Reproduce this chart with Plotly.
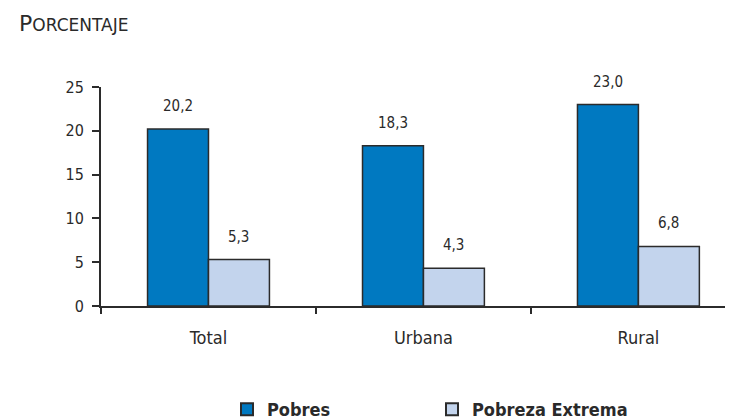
import plotly.graph_objects as go

categories = ["Total", "Urbana", "Rural"]
pobres = [20.2, 18.3, 23.0]
pobreza_extrema = [5.3, 4.3, 6.8]
series_names = ["Pobres", "Pobreza Extrema"]
y_ticks = [0, 5, 10, 15, 20, 25]

FONT = "DejaVu Sans Condensed"
TXT = "#2a2a2a"
EDGE = "#2b2b2b"
BARGAP = 0.433
BW = (1 - BARGAP) / 2

# page body has an 8px margin: the figure is laid out in figure pixels
W, H = 733, 420
ML, MT, MB, MR = 93, 79, 122, 8
PW, PH = W - ML - MR, H - MT - MB


def fmt(v):
    return f"{v:.1f}".replace(".", ",")


fig = go.Figure()
fig.add_trace(go.Bar(name=series_names[0], x=categories, y=pobres,
                     marker=dict(color="#0079C1", line=dict(color=EDGE, width=1.5))))
fig.add_trace(go.Bar(name=series_names[1], x=categories, y=pobreza_extrema,
                     marker=dict(color="#C3D4ED", line=dict(color=EDGE, width=1.5))))

anns = []
for i, (a, b) in enumerate(zip(pobres, pobreza_extrema)):
    anns.append(dict(x=i - BW / 2, y=a, xref="x", yref="y", text=fmt(a), showarrow=False,
                     yshift=23, font=dict(family=FONT, size=15, color=TXT)))
    anns.append(dict(x=i + BW / 2, y=b, xref="x", yref="y", text=fmt(b), showarrow=False,
                     yshift=23, font=dict(family=FONT, size=15, color=TXT)))

anns.append(dict(x=(9 - ML) / PW, y=(MT + PH - 15) / PH, xref="paper", yref="paper",
                 showarrow=False, xanchor="left", yanchor="middle",
                 text="<span style='font-size:22px'>P</span>ORCENTAJE",
                 font=dict(family="DejaVu Sans", size=17, color=TXT)))

fig.update_layout(
    width=W, height=H,
    margin=dict(l=ML, r=MR, t=MT, b=MB),
    paper_bgcolor="white", plot_bgcolor="white",
    barmode="group", bargap=BARGAP, bargroupgap=0,
    showlegend=True,
    legend=dict(orientation="h", x=219 / W, xref="container", xanchor="left",
                y=5, yref="container", yanchor="bottom",
                font=dict(family=FONT, size=18, color=TXT, weight="bold"),
                entrywidth=160, itemwidth=30, itemsizing="constant"),
    font=dict(family=FONT, color=TXT),
    annotations=anns,
    xaxis=dict(type="category", range=[-0.5, 2.44], showline=True, linecolor=EDGE,
               linewidth=2, ticks="outside", tickson="boundaries", ticklen=6,
               tickcolor=EDGE, tickwidth=2, ticklabelstandoff=14,
               tickfont=dict(family=FONT, size=18, color=TXT),
               showgrid=False, zeroline=False),
    yaxis=dict(range=[0, 25], tickvals=y_ticks, showline=True, linecolor=EDGE,
               linewidth=2, ticks="outside", ticklen=7, tickcolor=EDGE, tickwidth=2,
               ticklabelstandoff=5,
               tickfont=dict(family=FONT, size=16, color=TXT), showgrid=False,
               zeroline=False),
)
fig.write_html("out.html")
